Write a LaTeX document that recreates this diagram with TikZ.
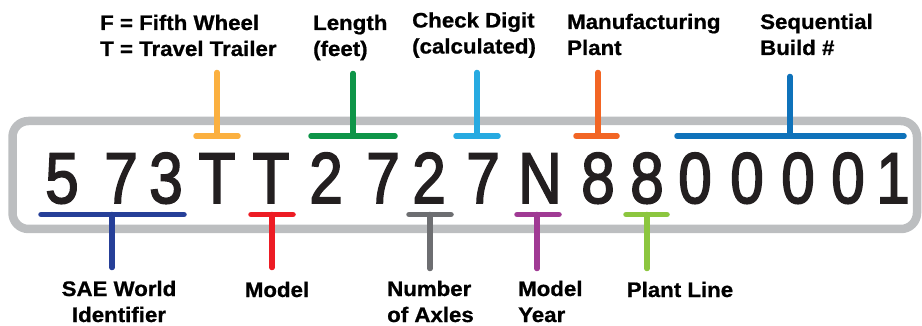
\documentclass[tikz,border=0pt]{standalone}
\usepackage{fontspec}
\setmainfont{Liberation Sans}
\newfontface\digitfont{Liberation Sans}[FakeBold=2.4]
\newfontface\lblfont{Liberation Sans Bold}[FakeBold=0.8]
\definecolor{boxgray}{HTML}{BCBEC0}
\definecolor{cyel}{HTML}{FBB040}
\definecolor{cgrn}{HTML}{0E9548}
\definecolor{clbl}{HTML}{27AAE1}
\definecolor{corg}{HTML}{F26524}
\definecolor{cdbl}{HTML}{0F72BA}
\definecolor{cnav}{HTML}{263F98}
\definecolor{cred}{HTML}{ED1C24}
\definecolor{cgry}{HTML}{6D6E71}
\definecolor{cpur}{HTML}{A03A94}
\definecolor{clgr}{HTML}{8CC63F}
\definecolor{ink}{HTML}{231F20}
\newcommand\dg[1]{\scalebox{0.84}[1]{#1}}
\newcommand\lbl[2]{\scalebox{1.06}[1]{\begin{tabular}[t]{@{}#1@{}}#2\end{tabular}}}
\tikzset{
  frame/.style={draw=boxgray, line width=8.5pt, rounded corners=16pt},
  tbar/.style={line width=5.5pt, line cap=round},
  dig/.style={inner sep=0pt, anchor=base, text=ink, font=\digitfont\fontsize{72}{72}\selectfont},
  lab/.style={inner sep=0pt, text=black, font=\lblfont\fontsize{21}{26}\selectfont},
}
\begin{document}
\begin{tikzpicture}[x=1pt,y=-1pt]
\useasboundingbox (0,0) rectangle (922,326);
% frame
\draw[frame] (12.5,121) rectangle (917,229);
% coordinates of bars and stems
\coordinate (yl) at (196,136);   \coordinate (yr) at (238,136);   \coordinate (ym) at (217,136);   \coordinate (yt) at (217,72.5);
\coordinate (gl) at (311,136);   \coordinate (gr) at (395,136);   \coordinate (gm) at (353,136);   \coordinate (gt) at (353,73.5);
\coordinate (cl) at (456,136);   \coordinate (cr) at (498,136);   \coordinate (cm) at (477,136);   \coordinate (ct) at (477,72.5);
\coordinate (ol) at (576,136);   \coordinate (or) at (617,136);   \coordinate (om) at (598,136);   \coordinate (ot) at (598,72.5);
\coordinate (dl) at (677,136);   \coordinate (dr) at (904,136);   \coordinate (dm) at (790,136);   \coordinate (dt) at (790,76.5);
\coordinate (nl) at (41,214.5);  \coordinate (nr) at (184,214.5); \coordinate (nm) at (112,214.5); \coordinate (nb) at (112,267.5);
\coordinate (rl) at (251,214.5); \coordinate (rr) at (293,214.5); \coordinate (rm) at (272,214.5); \coordinate (rb) at (272,267.5);
\coordinate (al) at (409,214.5); \coordinate (ar) at (451,214.5); \coordinate (am) at (430,214.5); \coordinate (ab) at (430,268.5);
\coordinate (pl) at (517,214.5); \coordinate (pr) at (559,214.5); \coordinate (pm) at (537,214.5); \coordinate (pb) at (537,268.5);
\coordinate (ll) at (626,214.5); \coordinate (lr) at (667,214.5); \coordinate (lm) at (647,214.5); \coordinate (lb) at (647,268.5);
% bars
\draw[tbar,cyel] (yl) -- (yr) (ym) -- (yt);
\draw[tbar,cgrn] (gl) -- (gr) (gm) -- (gt);
\draw[tbar,clbl] (cl) -- (cr) (cm) -- (ct);
\draw[tbar,corg] (ol) -- (or) (om) -- (ot);
\draw[tbar,cdbl] (dl) -- (dr) (dm) -- (dt);
\draw[tbar,cnav] (nl) -- (nr) (nm) -- (nb);
\draw[tbar,cred] (rl) -- (rr) (rm) -- (rb);
\draw[tbar,cgry] (al) -- (ar) (am) -- (ab);
\draw[tbar,cpur] (pl) -- (pr) (pm) -- (pb);
\draw[tbar,clgr] (ll) -- (lr) (lm) -- (lb);
% characters
\node[dig] (c1)  at (62,203)  {\dg{5}};
\node[dig] (c2)  at (121,203) {\dg{7}};
\node[dig] (c3)  at (166,203) {\dg{3}};
\node[dig] (c4)  at (217,203) {\dg{T}};
\node[dig] (c5)  at (271,203) {\dg{T}};
\node[dig] (c6)  at (326,203) {\dg{2}};
\node[dig] (c7)  at (383,203) {\dg{7}};
\node[dig] (c8)  at (429,203) {\dg{2}};
\node[dig] (c9)  at (483,203) {\dg{7}};
\node[dig] (c10) at (540,203) {\dg{N}};
\node[dig] (c11) at (598,203) {\dg{8}};
\node[dig] (c12) at (647,203) {\dg{8}};
\node[dig] (c13) at (695,203) {\dg{0}};
\node[dig] (c14) at (747,203) {\dg{0}};
\node[dig] (c15) at (798,203) {\dg{0}};
\node[dig] (c16) at (848,203) {\dg{0}};
\node[dig] (c17) at (893,203) {\dg{1}};
% top labels
\node[lab,anchor=base west] (tType)  at (100,30)   {\lbl{l}{F = Fifth Wheel\\T = Travel Trailer}};
\node[lab,anchor=base west] (tLen)   at (313,30)   {\lbl{l}{Length\\(feet)}};
\node[lab,anchor=base west] (tCheck) at (412,27.5) {\lbl{l}{Check Digit\\(calculated)}};
\node[lab,anchor=base west] (tPlant) at (567,29)   {\lbl{l}{Manufacturing\\Plant}};
\node[lab,anchor=base west] (tSeq)   at (760,29)   {\lbl{l}{Sequential\\Build \#}};
% bottom labels
\node[lab,anchor=base] (bSAE)   at (119,296)   {\lbl{c}{SAE World\\Identifier}};
\node[lab,anchor=base] (bModel) at (277,297)   {\lbl{c}{Model}};
\node[lab,anchor=base west] (bAx)  at (387,296) {\lbl{l}{Number\\of Axles}};
\node[lab,anchor=base west] (bYr)  at (518,296) {\lbl{l}{Model\\Year}};
\node[lab,anchor=base] (bLine)  at (680,297)   {\lbl{c}{Plant Line}};
\end{tikzpicture}
\end{document}
